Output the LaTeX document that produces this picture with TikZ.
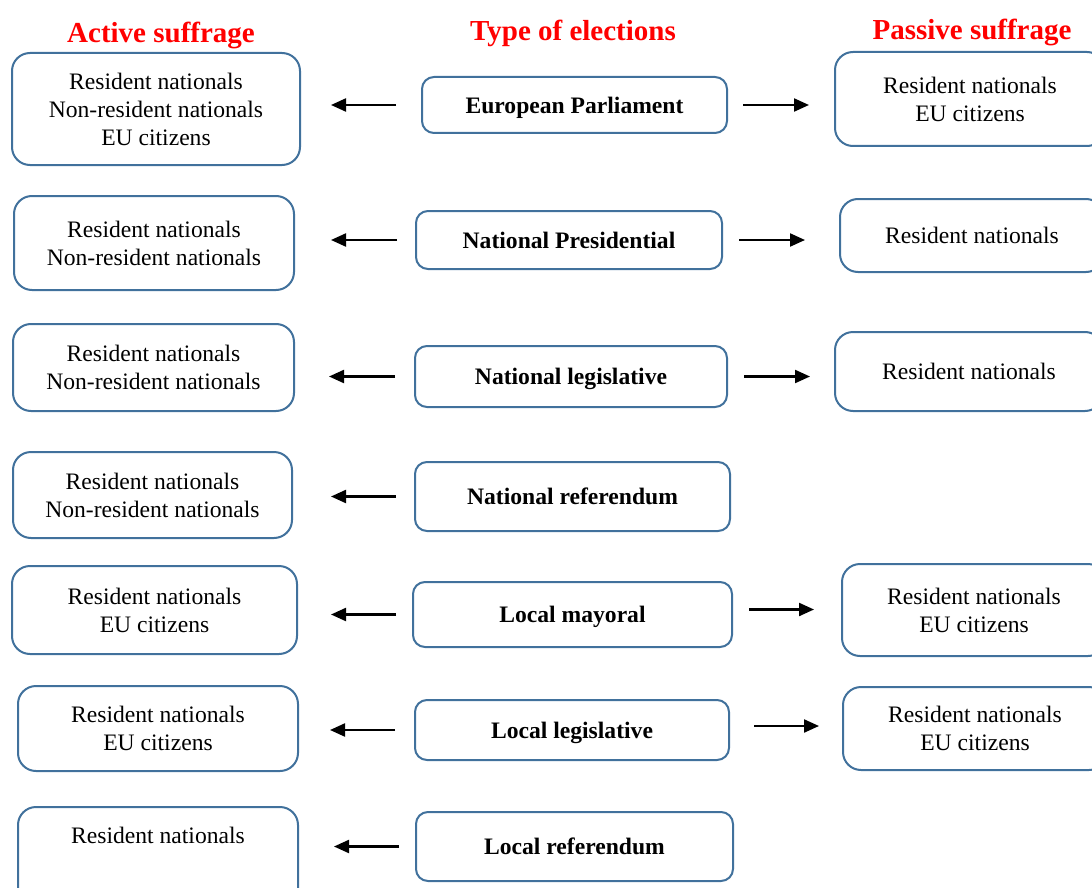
\documentclass[tikz,border=0pt]{standalone}
\usepackage{fontspec}
\setmainfont{Liberation Serif}
\usetikzlibrary{arrows.meta}

\definecolor{bordbleu}{RGB}{65,113,156}

\tikzset{
    titre/.style={text=red, font=\fontsize{29}{34}\selectfont\bfseries},
    electeurs/.style={draw=bordbleu, line width=2pt, rounded corners=18pt, inner sep=0pt, text depth=0pt, align=center, font=\fontsize{23.6}{28}\selectfont},
    scrutin/.style={draw=bordbleu, line width=2pt, rounded corners=12pt, inner sep=0pt, text depth=0pt, align=center, font=\fontsize{23.6}{28}\selectfont\bfseries},
    fleche/.style={-{Triangle[length=15pt,width=13pt]}, line width=2.2pt}
}

\begin{document}
\begin{tikzpicture}[x=1pt, y=-1pt]
    % Cadre de l'image
    \useasboundingbox (0,0) rectangle (1092,888);
    \clip (0,0) rectangle (1092,888);

    % Titres des colonnes
    \node[titre] (tA) at (161,35) {Active suffrage};
    \node[titre] (tM) at (573,33) {Type of elections};
    \node[titre] (tP) at (972,32) {Passive suffrage};

    % Types d'élections (colonne du milieu)
    \node[scrutin, minimum width=305pt, minimum height=56pt] (m1) at (574.5,105) {European Parliament};
    \node[scrutin, minimum width=306pt, minimum height=58pt] (m2) at (569,240) {National Presidential};
    \node[scrutin, minimum width=312pt, minimum height=61pt] (m3) at (571,376.5) {National legislative};
    \node[scrutin, minimum width=315pt, minimum height=69pt] (m4) at (572.5,496.5) {National referendum};
    \node[scrutin, minimum width=319pt, minimum height=65pt] (m5) at (572.5,614.5) {Local mayoral};
    \node[scrutin, minimum width=314pt, minimum height=60pt] (m6) at (572,730) {Local legislative};
    \node[scrutin, minimum width=317pt, minimum height=69pt] (m7) at (574.5,846.5) {Local referendum};

    % Suffrage actif (colonne de gauche)
    \node[electeurs, minimum width=288pt, minimum height=112pt] (a1) at (156,109) {Resident nationals\\Non-resident nationals\\EU citizens};
    \node[electeurs, minimum width=280pt, minimum height=94pt] (a2) at (154,243) {Resident nationals\\Non-resident nationals};
    \node[electeurs, minimum width=281pt, minimum height=87pt] (a3) at (153.5,367.5) {Resident nationals\\Non-resident nationals};
    \node[electeurs, minimum width=279pt, minimum height=86pt] (a4) at (152.5,495) {Resident nationals\\Non-resident nationals};
    \node[electeurs, minimum width=285pt, minimum height=88pt] (a5) at (154.5,610) {Resident nationals\\EU citizens};
    \node[electeurs, minimum width=280pt, minimum height=85pt] (a6) at (158,728.5) {Resident nationals\\EU citizens};
    \node[electeurs, minimum width=280pt, minimum height=112pt] (a7) at (158,863) {Resident nationals\\~\\~};

    % Suffrage passif (colonne de droite)
    \node[electeurs, minimum width=270pt, minimum height=94pt] (p1) at (970,99) {Resident nationals\\EU citizens};
    \node[electeurs, minimum width=264pt, minimum height=73pt] (p2) at (972,235.5) {Resident nationals};
    \node[electeurs, minimum width=268pt, minimum height=79pt] (p3) at (969,371.5) {Resident nationals};
    \node[electeurs, minimum width=264pt, minimum height=92pt] (p5) at (974,610) {Resident nationals\\EU citizens};
    \node[electeurs, minimum width=264pt, minimum height=83pt] (p6) at (975,728.5) {Resident nationals\\EU citizens};

    % Flèches vers le suffrage actif
    \draw[fleche, shorten <=25pt, shorten >=30pt] (m1.west) -- (m1.west -| a1.east);
    \draw[fleche, shorten <=18pt, shorten >=36pt] (m2.west) -- (m2.west -| a2.east);
    \draw[fleche, shorten <=19pt, shorten >=34pt] (m3.west) -- (m3.west -| a3.east);
    \draw[fleche, shorten <=18pt, shorten >=38pt] (m4.west) -- (m4.west -| a4.east);
    \draw[fleche, shorten <=16pt, shorten >=33pt] (m5.west) -- (m5.west -| a5.east);
    \draw[fleche, shorten <=19pt, shorten >=31pt] (m6.west) -- (m6.west -| a6.east);
    \draw[fleche, shorten <=16pt, shorten >=35pt] (m7.west) -- (m7.west -| a7.east);

    % Flèches vers le suffrage passif
    \draw[fleche, shorten <=15pt, shorten >=25pt] (m1.east) -- (m1.east -| p1.west);
    \draw[fleche, shorten <=16pt, shorten >=34pt] (m2.east) -- (m2.east -| p2.west);
    \draw[fleche, shorten <=16pt, shorten >=24pt] (m3.east) -- (m3.east -| p3.west);
    \draw[fleche, shorten <=16pt, shorten >=27pt] ([yshift=5pt]m5.east) -- ([yshift=5pt]m5.east -| p5.west);
    \draw[fleche, shorten <=24pt, shorten >=23pt] ([yshift=4pt]m6.east) -- ([yshift=4pt]m6.east -| p6.west);
\end{tikzpicture}
\end{document}
